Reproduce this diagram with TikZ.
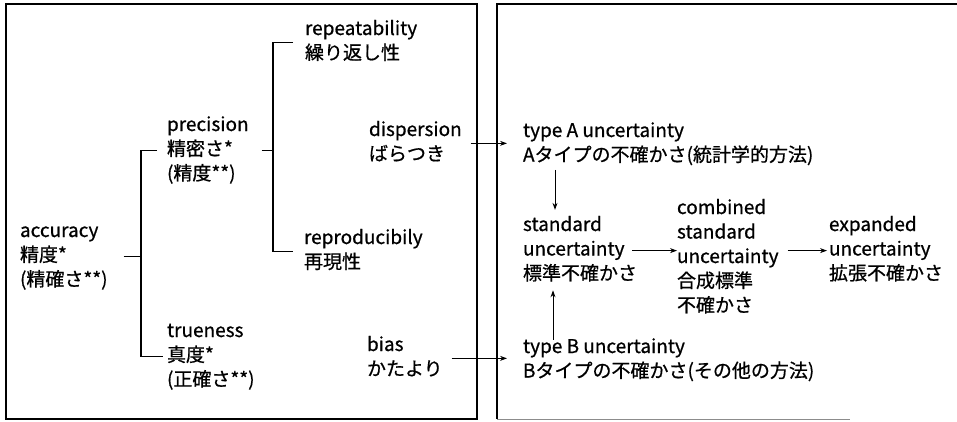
\documentclass[tikz,border=0pt]{standalone}
\usepackage{fontspec}
\setmainfont{Noto Sans CJK JP}[FakeBold=0.7]
\usetikzlibrary{arrows.meta}
\newcommand{\blk}[1]{\begin{tabular}[t]{@{}l@{}}#1\end{tabular}}
\begin{document}
\begin{tikzpicture}[x=1pt,y=-1pt,
  lbl/.style={anchor=base west,inner sep=0pt,outer sep=0pt,font=\fontsize{19}{24.5}\selectfont},
  tree/.style={line width=1.3pt},
  arr/.style={line width=0.9pt,-{Stealth[length=7pt,width=5pt]}},
  frame/.style={line width=1.3pt}]
\useasboundingbox (0,0) rectangle (957,421);
% frames
\draw[frame] (6,4) rectangle (477,419);
\draw[frame] (957,4) -- (497,4) -- (497,419);
\draw[line width=1pt,black!45] (497,419) -- (850,419);
% nodes
\node[lbl] (acc)   at (20,237)  {\blk{accuracy\\精度*\\(精確さ**)}};
\node[lbl] (prec)  at (167,131) {\blk{precision\\精密さ*\\(精度**)}};
\node[lbl] (true)  at (167,337) {\blk{trueness\\真度*\\(正確さ**)}};
\node[lbl] (rep)   at (305,35)  {\blk{repeatability\\繰り返し性}};
\node[lbl] (repro) at (304,244) {\blk{reproducibily\\再現性}};
\node[lbl] (disp)  at (369,136) {\blk{dispersion\\ばらつき}};
\node[lbl] (bias)  at (367,351) {\blk{bias\\かたより}};
\node[lbl] (typeA) at (523,137) {\blk{type A uncertainty\\Aタイプの不確かさ(統計学的方法)}};
\node[lbl] (su)    at (523,231) {\blk{standard\\uncertainty\\標準不確かさ}};
\node[lbl] (csu)   at (677,214) {\blk{combined\\standard\\uncertainty\\合成標準\\不確かさ}};
\node[lbl] (eu)    at (829,231) {\blk{expanded\\uncertainty\\拡張不確かさ}};
\node[lbl] (typeB) at (523,353) {\blk{type B uncertainty\\Bタイプの不確かさ(その他の方法)}};
% junction columns
\coordinate (ja) at (141,0);
\coordinate (jp) at (273,0);
\coordinate (cA) at (555,0);
\coordinate (cB) at (553,0);
% tree connectors
\draw[tree] ([xshift=16pt]acc.east) -- (acc.east -| ja);
\draw[tree] ([xshift=-10pt]prec.west) -| (acc.east -| ja) |- ([xshift=-4pt]true.west);
\draw[tree] ([xshift=13pt]prec.east) -- (prec.east -| jp);
\draw[tree] ([xshift=-12pt]rep.west) -| (prec.east -| jp) |- ([xshift=-11pt]repro.west);
% arrows
\draw[arr] ([xshift=9pt]disp.east) -- ([xshift=-16pt]disp.east -| typeA.west);
\draw[arr] ([xshift=9pt]bias.east) -- ([xshift=-16pt]bias.east -| typeB.west);
\draw[arr,shorten <=1pt,shorten >=4pt] (typeA.south -| cA) -- (su.north -| cA);
\draw[arr,shorten <=-4pt,shorten >=3pt] (typeB.north -| cB) -- (su.south -| cB);
\draw[arr,shorten <=-5pt] (su.east) -- (su.east -| csu.west);
\draw[arr,shorten <=9pt,shorten >=2pt] (eu.west -| csu.east) -- (eu.west);
\end{tikzpicture}
\end{document}
